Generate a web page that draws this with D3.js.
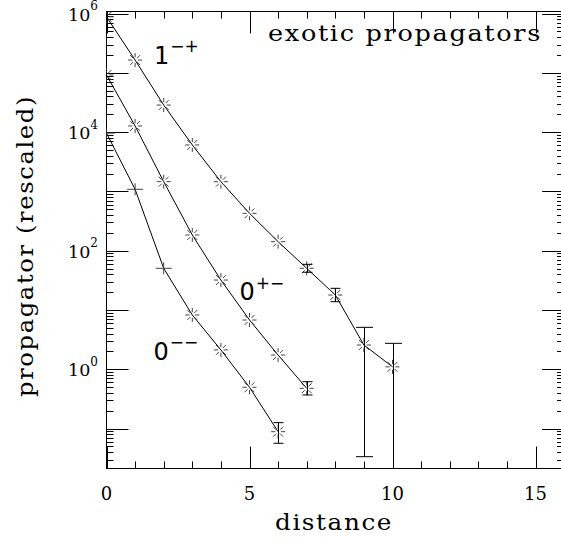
<!DOCTYPE html>
<html>
<head>
<meta charset="utf-8">
<script src="https://cdn.jsdelivr.net/npm/d3@7"></script>
<style>
  body { margin: 0; background: #fff; }
  svg { display: block; }
</style>
</head>
<body>
<div id="chart"></div>
<script>
// distances and the three propagators
var distance = [0, 1, 2, 3, 4, 5, 6, 7, 8, 9, 10];
var prop1mp = [8.8e5, 1.64e5, 2.86e4, 6070, 1458, 427, 142, 50.5, 17.9, 2.57, 1.1];
var prop0pm = [9.2e4, 1.27e4, 1460, 184, 32, 6.78, 1.74, 0.478];
var prop0mm = [9.6e3, 1085, 50.5, 8.24, 2.12, 0.497, 0.0887];

// error bars: [distance, low, high]  (null low = goes below the axis)
var err1mp = [[7, 43.3, 58.9], [8, 13.8, 23.2], [9, 0.0336, 5.1], [10, null, 2.74]];
var err0pm = [[7, 0.369, 0.618]];
var err0mm = [[6, 0.0565, 0.126]];

// points of 0-- drawn as plain crosses instead of stars
var plus0mm = [0, 1, 2];

var xTicks = [0, 5, 10, 15];
var yLabelExp = [0, 2, 4, 6];

var width = 561, height = 542;
var plotLeft = 106.5, plotTop = 11.5, plotBottom = 468.5;

var x = d3.scaleLinear().domain([0, 16]).range([plotLeft, plotLeft + 16 * 28.6]);
var y = d3.scaleLog()
    .domain([Math.pow(10, -1.673), Math.pow(10, 6.034)])
    .range([plotBottom, plotTop]);
var plotRight = x(16);

var svg = d3.select("#chart").append("svg")
    .attr("width", width)
    .attr("height", height);

svg.append("defs").append("clipPath").attr("id", "plot")
  .append("rect")
    .attr("x", plotLeft).attr("y", plotTop)
    .attr("width", plotRight - plotLeft).attr("height", plotBottom - plotTop);

// frame
svg.append("rect")
    .attr("x", plotLeft).attr("y", plotTop)
    .attr("width", plotRight - plotLeft).attr("height", plotBottom - plotTop)
    .attr("fill", "none").attr("stroke", "#000").attr("stroke-width", 1);

var ticks = svg.append("g").attr("stroke", "#000").attr("stroke-width", 1);

// x ticks, bottom and top
d3.range(0, 17).forEach(function(d) {
  var major = d % 5 == 0;
  var px = Math.round(x(d)) + 0.5;
  ticks.append("line")
      .attr("x1", px).attr("x2", px)
      .attr("y1", plotBottom).attr("y2", plotBottom - (major ? 22 : 7));
  ticks.append("line")
      .attr("x1", px).attr("x2", px)
      .attr("y1", plotTop).attr("y2", plotTop + (major ? 22 : 7));
});

// y ticks (log), left and right
var yDom = y.domain();
for (var e = -2; e <= 6; e++) {
  for (var k = 1; k <= 9; k++) {
    var v = k * Math.pow(10, e);
    if (v < yDom[0] || v > yDom[1]) continue;
    var len = k == 1 ? 22 : 7;
    var py = Math.round(y(v)) + 0.5;
    ticks.append("line")
        .attr("x1", plotLeft).attr("x2", plotLeft + len)
        .attr("y1", py).attr("y2", py);
    ticks.append("line")
        .attr("x1", plotRight).attr("x2", plotRight - len)
        .attr("y1", py).attr("y2", py);
  }
}

// tick labels
svg.append("g").selectAll("text")
    .data(xTicks)
    .enter().append("text")
    .attr("x", function(d) { return x(d); })
    .attr("y", 500)
    .attr("text-anchor", "middle")
    .style("font-family", "DejaVu Serif")
    .style("font-size", "18px")
    .text(function(d) { return d; });

var yl = svg.append("g").selectAll("text")
    .data(yLabelExp)
    .enter().append("text")
    .attr("x", 98)
    .attr("y", function(d) { return y(Math.pow(10, d)) + 7; })
    .attr("text-anchor", "end")
    .style("font-family", "DejaVu Serif")
    .style("font-size", "17.5px");
yl.append("tspan").text("10");
yl.append("tspan")
    .attr("dy", -10.5)
    .style("font-size", "12px")
    .text(function(d) { return d; });

// axis titles
function title(t, len) {
  return t.attr("textLength", len)
      .attr("lengthAdjust", "spacingAndGlyphs")
      .style("font-family", "DejaVu Serif")
      .style("font-size", "23px")
      .style("letter-spacing", "1.5px");
}

title(svg.append("text")
    .attr("x", 334).attr("y", 530)
    .attr("text-anchor", "middle"), 118)
    .text("distance");

title(svg.append("text")
    .attr("transform", "rotate(-90)")
    .attr("x", -246).attr("y", 33)
    .attr("text-anchor", "middle"), 302)
    .text("propagator (rescaled)");

title(svg.append("text")
    .attr("x", 268).attr("y", 41), 274)
    .text("exotic propagators");

// data
var plot = svg.append("g").attr("clip-path", "url(#plot)");

var line = d3.line()
    .x(function(d) { return x(d[0]); })
    .y(function(d) { return y(d[1]); });

function pairs(vals) {
  return vals.map(function(v, i) { return [distance[i], v]; });
}

function star(g, cx, cy) {
  for (var a = 0; a < 8; a++) {
    var t = a * Math.PI / 4;
    g.append("line")
        .attr("x1", cx + 2.8 * Math.cos(t)).attr("y1", cy + 2.8 * Math.sin(t))
        .attr("x2", cx + 7 * Math.cos(t)).attr("y2", cy + 7 * Math.sin(t));
  }
}

function cross(g, cx, cy) {
  g.append("line").attr("x1", cx - 8).attr("x2", cx + 8).attr("y1", cy).attr("y2", cy);
  g.append("line").attr("x1", cx).attr("x2", cx).attr("y1", cy - 6).attr("y2", cy + 6);
}

function series(vals, errs, plusIdx) {
  var pts = pairs(vals);
  plot.append("path")
      .datum(pts)
      .attr("d", line)
      .attr("fill", "none")
      .attr("stroke", "#000")
      .attr("stroke-width", 1);

  var m = plot.append("g").attr("stroke", "#444").attr("stroke-width", 1);
  pts.forEach(function(p, i) {
    if (plusIdx && plusIdx.indexOf(i) >= 0) cross(m, x(p[0]), y(p[1]));
    else star(m, x(p[0]), y(p[1]));
  });

  var eb = plot.append("g").attr("stroke", "#000").attr("stroke-width", 1);
  errs.forEach(function(d) {
    var cx = Math.round(x(d[0])) + 0.5;
    var yHi = y(d[2]);
    var yLo = d[1] == null ? plotBottom + 5 : y(d[1]);
    var cap = (yLo - yHi) > 40 ? 8.5 : 5;
    eb.append("line").attr("x1", cx).attr("x2", cx).attr("y1", yHi).attr("y2", yLo);
    eb.append("line").attr("x1", cx - cap).attr("x2", cx + cap).attr("y1", yHi).attr("y2", yHi);
    if (d[1] != null)
      eb.append("line").attr("x1", cx - cap).attr("x2", cx + cap).attr("y1", yLo).attr("y2", yLo);
  });
}

series(prop1mp, err1mp);
series(prop0pm, err0pm);
series(prop0mm, err0mm, plus0mm);

// state labels
function stateLabel(px, py, main, sup) {
  var t = svg.append("text")
      .attr("x", px).attr("y", py)
      .style("font-family", "DejaVu Sans")
      .style("font-size", "24px");
  t.append("tspan").text(main);
  t.append("tspan")
      .attr("dx", 1).attr("dy", -11.5)
      .style("font-size", "17px")
      .text(sup);
}
stateLabel(154, 63.5, "1", "\u2212+");
stateLabel(239.5, 300, "0", "+\u2212");
stateLabel(153.5, 359.5, "0", "\u2212\u2212");
</script>
</body>
</html>
